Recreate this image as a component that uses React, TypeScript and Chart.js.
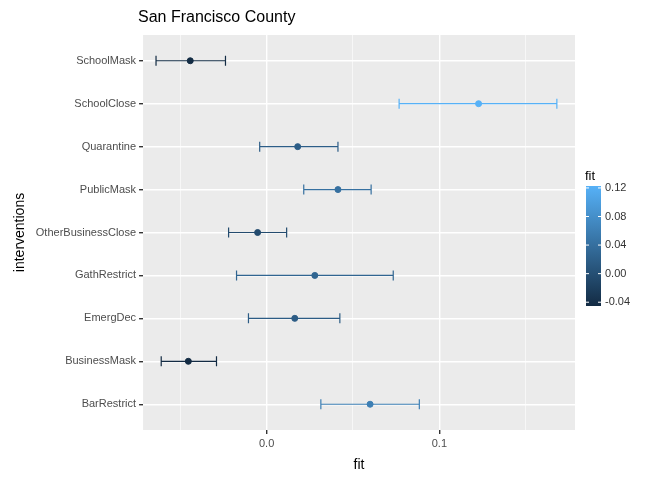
import React, { useEffect, useRef } from "react";
import { Chart, registerables } from "chart.js";
Chart.register(...registerables);

const categories = ["SchoolMask","SchoolClose","Quarantine","PublicMask","OtherBusinessClose","GathRestrict","EmergDec","BusinessMask","BarRestrict"];
const fitValues = [-0.0442, 0.1227, 0.018, 0.0413, -0.0052, 0.0279, 0.0163, -0.0453, 0.0599];
const lowValues = [-0.064, 0.0767, -0.004, 0.0215, -0.022, -0.0174, -0.0105, -0.061, 0.0314];
const highValues = [-0.0238, 0.168, 0.0413, 0.0605, 0.0116, 0.0733, 0.0424, -0.029, 0.0884];
const legendTicks = [0.12, 0.08, 0.04, 0.0, -0.04];

const LO = -0.0453, HI = 0.1227;
const c0 = [0x13, 0x2b, 0x43], c1 = [0x56, 0xb1, 0xf7];
function colorFor(v: number) {
  const t = Math.max(0, Math.min(1, (v - LO) / (HI - LO)));
  const c = c0.map((a, i) => Math.round(a + (c1[i] - a) * t));
  return `rgb(${c[0]},${c[1]},${c[2]})`;
}
const isMajor = (v: number) => Math.abs(v) < 1e-9 || Math.abs(v - 0.1) < 1e-9;

export default function App() {
  const ref = useRef<HTMLCanvasElement>(null);
  useEffect(() => {
    document.body.style.margin = "0";
    const font = "'Liberation Sans', Arial, sans-serif";
    const bg = {
      id: "bg",
      beforeDraw(chart: any) {
        const { ctx, chartArea: a } = chart;
        ctx.save();
        ctx.fillStyle = "#ebebeb";
        ctx.fillRect(a.left, a.top, a.right - a.left, a.bottom - a.top);
        ctx.restore();
      },
    };
    const errbars = {
      id: "errbars",
      beforeDatasetsDraw(chart: any) {
        const { ctx } = chart;
        const xs = chart.scales.x, ys = chart.scales.y;
        ctx.save();
        ctx.lineWidth = 1.2;
        categories.forEach((c, i) => {
          const y = ys.getPixelForValue(i);
          const x1 = xs.getPixelForValue(lowValues[i]);
          const x2 = xs.getPixelForValue(highValues[i]);
          ctx.strokeStyle = colorFor(fitValues[i]);
          ctx.beginPath();
          ctx.moveTo(x1, y); ctx.lineTo(x2, y);
          ctx.moveTo(x1, y - 5); ctx.lineTo(x1, y + 5);
          ctx.moveTo(x2, y - 5); ctx.lineTo(x2, y + 5);
          ctx.stroke();
        });
        ctx.restore();
      },
      afterDraw(chart: any) {
        const { ctx } = chart;
        ctx.save();
        ctx.fillStyle = "#000";
        ctx.font = `16px ${font}`;
        ctx.textBaseline = "alphabetic";
        ctx.fillText("San Francisco County", 138, 22);
        ctx.font = `13px ${font}`;
        ctx.fillText("fit", 585, 180);
        const top = 186, bot = 306, gx = 586, gw = 15;
        const g = ctx.createLinearGradient(0, bot, 0, top);
        g.addColorStop(0, colorFor(LO));
        g.addColorStop(1, colorFor(HI));
        ctx.fillStyle = g;
        ctx.fillRect(gx, top, gw, bot - top);
        ctx.font = `11px ${font}`;
        ctx.textBaseline = "middle";
        legendTicks.forEach((v) => {
          const y = bot - ((v - LO) / (HI - LO)) * (bot - top);
          ctx.strokeStyle = "#fff";
          ctx.beginPath();
          ctx.moveTo(gx, y); ctx.lineTo(gx + 3, y);
          ctx.moveTo(gx + gw - 3, y); ctx.lineTo(gx + gw, y);
          ctx.stroke();
          ctx.fillStyle = "#333";
          ctx.fillText(v.toFixed(2), gx + gw + 4, y);
        });
        ctx.restore();
      },
    };
    const chart = new Chart(ref.current!, {
      type: "scatter",
      data: {
        datasets: [{
          data: fitValues.map((v, i) => ({ x: v, y: i })),
          pointBackgroundColor: fitValues.map(colorFor),
          pointBorderColor: fitValues.map(colorFor),
          pointRadius: 3,
        }],
      },
      options: {
        animation: false,
        responsive: false,
        layout: { padding: { top: 35, right: 97, left: 8, bottom: 2 } },
        plugins: { legend: { display: false }, tooltip: { enabled: false } },
        scales: {
          x: {
            min: -0.0715, max: 0.1785,
            afterBuildTicks: (s: any) => { s.ticks = [-0.05, 0, 0.05, 0.1, 0.15].map((v) => ({ value: v })); },
            ticks: { color: "#4d4d4d", font: { size: 11, family: font }, callback: (v: any) => (Math.abs(v) < 1e-9 ? "0.0" : Math.abs(v - 0.1) < 1e-9 ? "0.1" : ""), maxRotation: 0 },
            grid: {
              color: "#fff",
              lineWidth: (c: any) => (c.tick && isMajor(c.tick.value) ? 1.4 : 0.6),
              tickLength: 4,
              tickColor: (c: any) => (c.tick && isMajor(c.tick.value) ? "#333" : "rgba(0,0,0,0)"),
            },
            border: { display: false },
            title: { display: true, text: "fit", color: "#000", font: { size: 14, family: font } },
          },
          y: {
            type: "linear",
            min: -0.6, max: 8.6, reverse: true,
            afterBuildTicks: (s: any) => { s.ticks = categories.map((_, i) => ({ value: i })); },
            ticks: { color: "#4d4d4d", font: { size: 11, family: font }, callback: (v: any) => categories[v] },
            grid: { color: "#fff", lineWidth: 1.4, tickLength: 4, tickColor: "#333" },
            border: { display: false },
            title: { display: true, text: "interventions", color: "#000", font: { size: 14, family: font } },
          },
        },
      },
      plugins: [bg, errbars],
    });
    return () => chart.destroy();
  }, []);
  return <canvas ref={ref} width={672} height={480} style={{ display: "block" }} />;
}
